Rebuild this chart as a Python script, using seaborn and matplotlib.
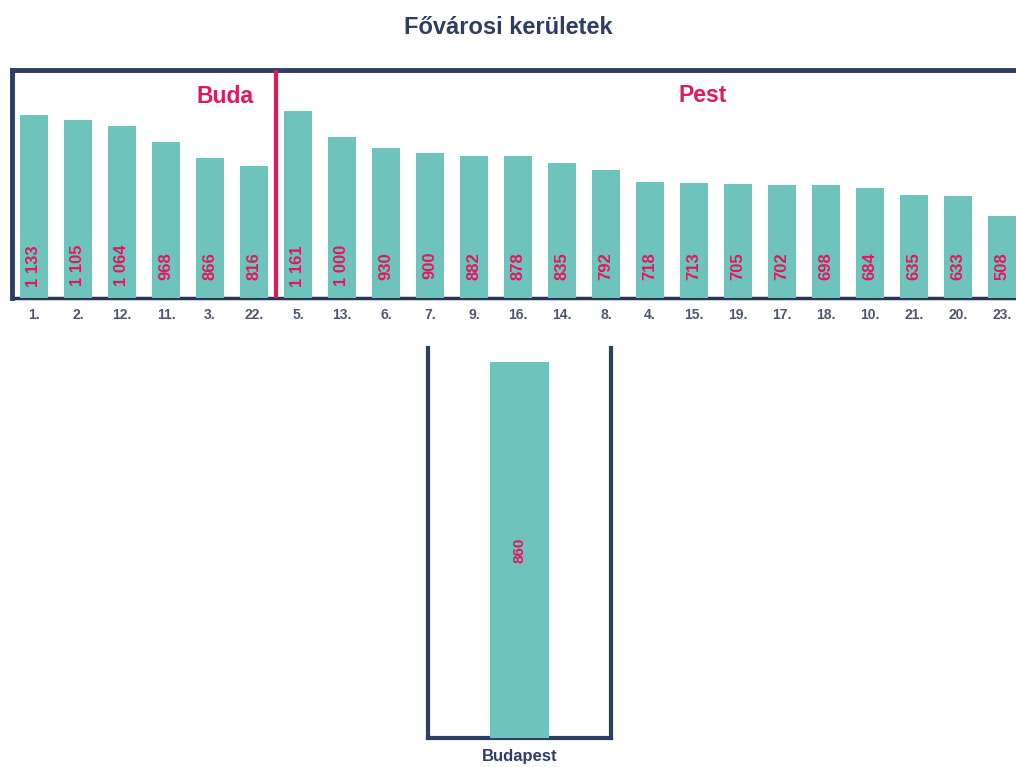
import matplotlib
matplotlib.use("Agg")
import matplotlib.pyplot as plt
import seaborn as sns

# kerületek sorrendben (Buda, majd Pest)
districts = ["1.", "2.", "12.", "11.", "3.", "22.",
             "5.", "13.", "6.", "7.", "9.", "16.", "14.", "8.", "4.",
             "15.", "19.", "17.", "18.", "10.", "21.", "20.", "23."]
values = [1133, 1105, 1064, 968, 866, 816,
          1161, 1000, 930, 900, 882, 878, 835, 792, 718,
          713, 705, 702, 698, 684, 635, 633, 508]
n_buda = 6
city_label = ["Budapest"]
city_value = [860]

TEAL = "#6fc3bd"
MAGENTA = "#e0185c"
NAVY = "#2e3d66"
TICK_COL = "#4f5670"

sns.set_style("white")
plt.rcParams["font.family"] = ["Liberation Sans", "DejaVu Sans"]


def fmt(v):
    return f"{v:,}".replace(",", " ")


fig = plt.figure(figsize=(10.16, 7.67), dpi=100)
fig.text(0.5, 1 - 27 / 767, "Fővárosi kerületek", ha="center", va="center",
         fontsize=17, fontweight="bold", color=NAVY)

# felső diagram: kerületek
ax = fig.add_axes([12 / 1016, 1 - 298 / 767, 1012 / 1016, 228 / 767])
sns.barplot(x=districts, y=values, color=TEAL, saturation=1, width=0.63,
            linewidth=0, ax=ax, zorder=3)
ax.set_xlim(-0.5, len(districts) - 0.5)
ax.set_ylim(0, 1412)
ax.set_xlabel("")
ax.set_ylabel("")
ax.set_yticks([])
ax.tick_params(axis="x", length=0, pad=7, labelsize=10, labelcolor=TICK_COL)
for lbl in ax.get_xticklabels():
    lbl.set_fontweight("bold")
for side in ["left", "top", "right"]:
    ax.spines[side].set_color(NAVY)
    ax.spines[side].set_linewidth(3.5)
ax.spines["bottom"].set_color("#2b3550")
ax.spines["bottom"].set_linewidth(2.5)
ax.spines["bottom"].set_zorder(1)

for i, v in enumerate(values):
    ax.text(i, 200, fmt(v), rotation=90, ha="center", va="center",
            color=MAGENTA, fontsize=12, fontweight="bold", zorder=4)

ax.axvline(n_buda - 0.5, color=MAGENTA, lw=3, zorder=5)
ax.text(4.34, 1245, "Buda", ha="center", va="center", color=MAGENTA,
        fontsize=16.5, fontweight="bold")
ax.text(15.2, 1257, "Pest", ha="center", va="center", color=MAGENTA,
        fontsize=16.5, fontweight="bold")

# alsó diagram: Budapest
ax2 = fig.add_axes([428 / 1016, 1 - 738 / 767, 183 / 1016, 390 / 767])
sns.barplot(x=city_label, y=city_value, color=TEAL, saturation=1, width=0.32,
            linewidth=0, ax=ax2, zorder=3)
ax2.set_xlim(-0.5, 0.5)
ax2.set_ylim(0, 892)
ax2.set_xlabel("")
ax2.set_ylabel("")
ax2.set_yticks([])
ax2.tick_params(axis="x", length=0, pad=8, labelsize=12, labelcolor=NAVY)
for lbl in ax2.get_xticklabels():
    lbl.set_fontweight("bold")
ax2.spines["top"].set_visible(False)
for side in ["left", "right", "bottom"]:
    ax2.spines[side].set_color(NAVY)
    ax2.spines[side].set_linewidth(3)
ax2.spines["bottom"].set_zorder(1)
ax2.text(0, city_value[0] / 2, fmt(city_value[0]), rotation=90, ha="center",
         va="center", color=MAGENTA, fontsize=11, fontweight="bold", zorder=4)

fig.savefig("out.png", dpi=100)
